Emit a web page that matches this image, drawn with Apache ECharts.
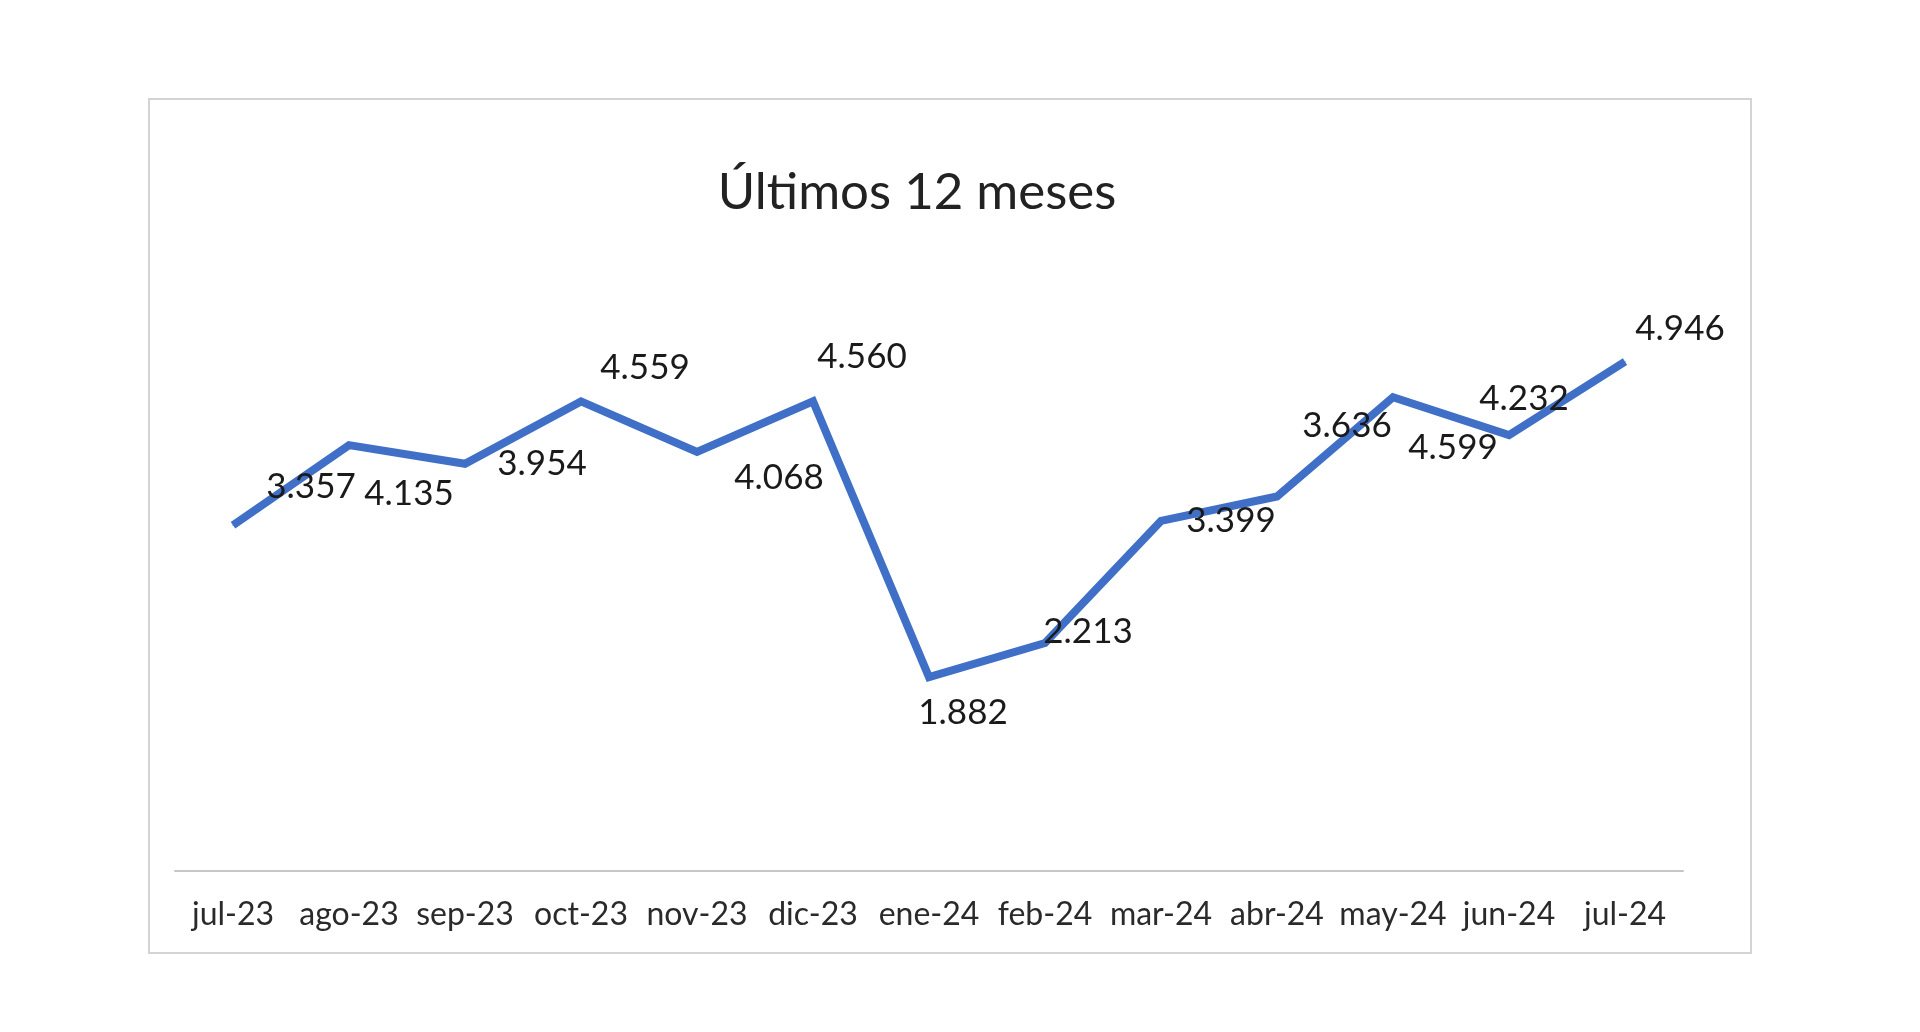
<!DOCTYPE html>
<html>
<head>
<meta charset="utf-8">
<script src="https://cdn.jsdelivr.net/npm/echarts@6/dist/echarts.min.js"></script>
<style>
html,body{margin:0;padding:0;background:#fff;}
#chart{width:1920px;height:1032px;}
</style>
</head>
<body>
<div id="chart"></div>
<script>
const titleText = 'Últimos 12 meses';
const categories = ['jul-23','ago-23','sep-23','oct-23','nov-23','dic-23','ene-24','feb-24','mar-24','abr-24','may-24','jun-24','jul-24'];
const values = [3.357, 4.135, 3.954, 4.559, 4.068, 4.560, 1.882, 2.213, 3.399, 3.636, 4.599, 4.232, 4.946];
// label placement (style only), offsets in px from each point
const labelOffsets = [[78,-39],[60,49],[77,0],[64,-34],[82,26],[49,-45],[34,36],[43,-11],[70,0],[70,-71],[60,50],[15,-36],[55,-33]];

const fmt = v => v.toFixed(3);
const seriesData = values.map((v, i) => ({
  value: v,
  label: { offset: labelOffsets[i] }
}));

const chart = echarts.init(document.getElementById('chart'));
chart.setOption({
  animation: false,
  backgroundColor: '#ffffff',
  textStyle: { fontFamily: 'Lato' },
  title: {
    text: titleText,
    left: 912,
    textAlign: 'center',
    top: 162,
    textStyle: { fontFamily: 'Lato', fontSize: 51, fontWeight: 'normal', color: '#222222' }
  },
  graphic: [{
    type: 'rect',
    shape: { x: 149, y: 99, width: 1602, height: 854 },
    style: { fill: 'none', stroke: '#d4d4d4', lineWidth: 2 },
    silent: true,
    z: -1
  }],
  grid: { left: 175, right: 1920 - 1683, top: 253, bottom: 161, containLabel: false },
  xAxis: {
    type: 'category',
    data: categories,
    boundaryGap: true,
    axisLine: { show: true, lineStyle: { color: '#c6c6c6', width: 2 } },
    axisTick: { show: false },
    axisLabel: { color: '#2a2a2a', fontFamily: 'Lato', fontSize: 32, margin: 28, interval: 0 },
    splitLine: { show: false }
  },
  yAxis: {
    type: 'value',
    min: 0,
    max: 6,
    interval: 1,
    show: false,
    splitLine: { show: false }
  },
  series: [{
    type: 'line',
    data: seriesData,
    showSymbol: true,
    symbol: 'circle',
    symbolSize: 1,
    itemStyle: { color: '#3f6fc6' },
    lineStyle: { color: '#3f6fc6', width: 8, join: 'miter' },
    label: {
      show: true,
      position: 'inside',
      formatter: p => fmt(p.value),
      color: '#1a1a1a',
      fontFamily: 'Lato',
      fontSize: 35
    },
    z: 2
  }]
});
</script>
</body>
</html>
